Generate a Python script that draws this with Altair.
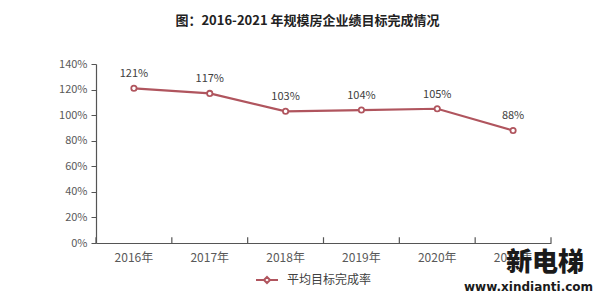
import altair as alt
import pandas as pd

years = ["2016年", "2017年", "2018年", "2019年", "2020年", "2021年"]
rates = [1.21, 1.17, 1.03, 1.04, 1.05, 0.88]
labels = ["121%", "117%", "103%", "104%", "105%", "88%"]
series = "平均目标完成率"
title_text = "图：2016-2021 年规模房企业绩目标完成情况"
y_ticks = [0, 0.2, 0.4, 0.6, 0.8, 1.0, 1.2, 1.4]

df = pd.DataFrame({"year": years, "rate": rates, "label": labels, "series": [series] * len(years)})
tick_df = pd.DataFrame({"year": years, "base": [0.0] * 6, "top": [0.045] * 6})

LINE = "#b0555e"
FONT = "Noto Sans CJK SC"

xscale = alt.Scale(type="band", domain=years, paddingInner=0, paddingOuter=0)
yscale = alt.Scale(domain=[0, 1.4])

x_axis = alt.Axis(title=None, ticks=False, labelAngle=0, labelPadding=9,
                  labelFontSize=12, labelColor="#595959", labelFont=FONT,
                  domainColor="#555555", domainWidth=1.2)
y_axis = alt.Axis(title=None, format=".0%", values=y_ticks, labelOverlap=False,
                  grid=False, tickSize=5, tickColor="#555555", labelPadding=4,
                  labelFontSize=11, labelColor="#595959", labelFont=FONT,
                  domainColor="#555555", domainWidth=1.2)

x_enc = alt.X("year:N", scale=xscale, sort=years, axis=x_axis)
y_enc = alt.Y("rate:Q", scale=yscale, axis=y_axis)

line = alt.Chart(df).mark_line(strokeWidth=2.2).encode(
    x=x_enc, y=y_enc,
    color=alt.Color("series:N", scale=alt.Scale(domain=[series], range=[LINE]),
                    legend=alt.Legend(title=None, orient="none", legendX=159, legendY=204,
                                      symbolType="M-1,0L-0.28,0M0.28,0L1,0M0,-0.28L0.28,0L0,0.28L-0.28,0Z",
                                      symbolSize=484, symbolStrokeWidth=2, symbolFillColor="white",
                                      labelFontSize=12, labelColor="#404040", labelFont=FONT,
                                      labelOffset=8))
)

pts = alt.Chart(df).mark_point(shape="circle", filled=True, fill="white", stroke=LINE,
                               strokeWidth=1.8, size=28, opacity=1).encode(x=x_enc, y=y_enc)

txt = alt.Chart(df).mark_text(dy=-14, fontSize=11, color="#404040", font=FONT).encode(
    x=x_enc, y=y_enc, text="label:N")

ticks = alt.Chart(tick_df).mark_rule(color="#555555", strokeWidth=1.2).encode(
    x=alt.X("year:N", scale=xscale, sort=years, bandPosition=0, axis=x_axis),
    y=alt.Y("base:Q", scale=yscale, axis=y_axis), y2="top:Q")
end_tick = alt.Chart(tick_df.tail(1)).mark_rule(color="#555555", strokeWidth=1.2).encode(
    x=alt.X("year:N", scale=xscale, sort=years, bandPosition=1, axis=x_axis),
    y=alt.Y("base:Q", scale=yscale, axis=y_axis), y2="top:Q")

wm1 = alt.Chart(tick_df.tail(1)).mark_text(text="新电梯", fontSize=26, fontWeight=900, font=FONT,
                                           color="#1a1a1a", align="left").encode(
    x=alt.value(410), y=alt.value(199))
wm2 = alt.Chart(tick_df.tail(1)).mark_text(text="www.xindianti.com", fontSize=12, fontWeight="bold",
                                           font="DejaVu Sans", color="#1a1a1a", align="left").encode(
    x=alt.value(368), y=alt.value(223))

chart = alt.layer(line, ticks, end_tick, pts, txt, wm1, wm2).properties(
    width=455, height=179,
    background="white",
    title=alt.Title(title_text, fontSize=13, fontWeight="bold", font=FONT, color="#222222",
                    anchor="middle", dx=-16, offset=30),
    autosize=alt.AutoSizeParams(type="none"),
    padding={"left": 96, "top": 64, "right": 49, "bottom": 56},
).configure_view(stroke=None)

chart.save("out.html", embed_options={"renderer": "svg", "actions": False})
